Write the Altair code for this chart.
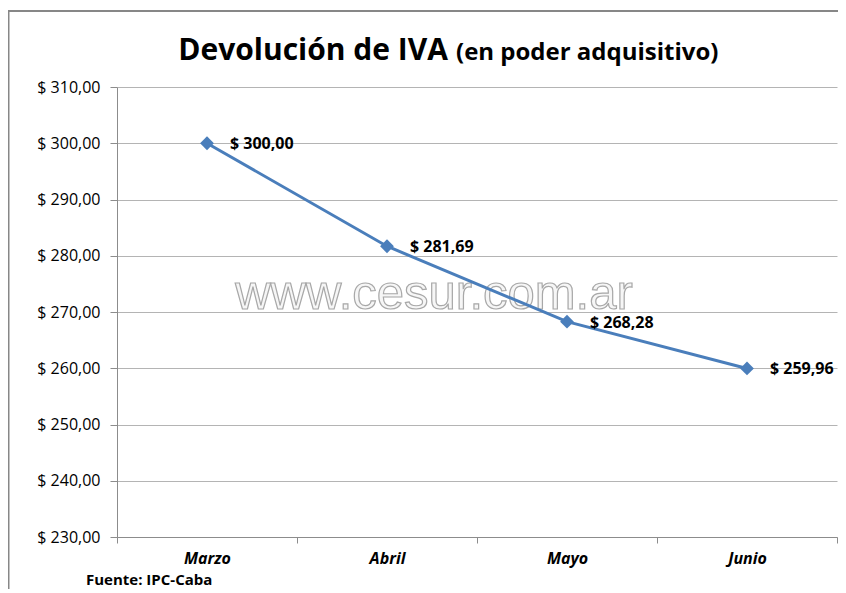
import altair as alt
import pandas as pd

meses = ["Marzo", "Abril", "Mayo", "Junio"]
valores = [300.00, 281.69, 268.28, 259.96]
y_ticks = [230, 240, 250, 260, 270, 280, 290, 300, 310]

df = pd.DataFrame({"mes": meses, "valor": valores})

BLUE = "#4a7ebb"
GRID = "#b4b4b4"
AXIS = "#8c8c8c"
FONT = "Open Sans"

x_enc = alt.X(
    "mes:N",
    sort=meses,
    scale=alt.Scale(type="band", paddingInner=0, paddingOuter=0),
    axis=alt.Axis(
        title=None,
        labelAngle=0,
        labelFont=FONT,
        labelFontSize=16,
        labelFontWeight="bold",
        labelFontStyle="italic",
        labelColor="#000000",
        labelPadding=7,
        tickBand="extent",
        tickSize=6,
        tickColor=AXIS,
        domainColor=AXIS,
        grid=False,
    ),
)
y_enc = alt.Y(
    "valor:Q",
    scale=alt.Scale(domain=[230, 310], nice=False, zero=False),
    axis=alt.Axis(
        title=None,
        values=y_ticks,
        labelExpr="'$ ' + replace(format(datum.value, '.2f'), '.', ',')",
        labelFont=FONT,
        labelFontSize=16,
        labelColor="#000000",
        labelPadding=10,
        tickSize=7,
        tickColor=AXIS,
        domainColor=AXIS,
        gridColor=GRID,
        gridWidth=1,
    ),
)

base = alt.Chart(df).encode(x=x_enc, y=y_enc)

line = base.mark_line(color=BLUE, strokeWidth=3)
pts = base.mark_point(shape="diamond", filled=True, size=190, color=BLUE, opacity=1)
lbl = base.transform_calculate(
    t="'$ ' + replace(format(datum.valor, '.2f'), '.', ',')"
).mark_text(
    align="left", baseline="middle", dx=23, dy=1, font=FONT, fontSize=16,
    fontWeight="bold", color="#000000"
).encode(text="t:N")

one = pd.DataFrame({"k": [0]})
deco = alt.Chart(one)

watermark = deco.mark_text(
    align="center", baseline="alphabetic", font="Liberation Sans", fontSize=49,
    fill="#f6f6f6", stroke="#a8a8a8", strokeWidth=1.2
).encode(x=alt.value(317), y=alt.value(222), text=alt.value("www.cesur.com.ar"))

title1 = deco.mark_text(
    align="right", baseline="alphabetic", font=FONT, fontSize=30, fontWeight="bold",
    color="#000000"
).encode(x=alt.value(331), y=alt.value(-27), text=alt.value("Devolución de IVA"))

title2 = deco.mark_text(
    align="left", baseline="alphabetic", font=FONT, fontSize=24, fontWeight="bold",
    color="#000000"
).encode(x=alt.value(339), y=alt.value(-27), text=alt.value("(en poder adquisitivo)"))

fuente = deco.mark_text(
    align="left", baseline="alphabetic", font=FONT, fontSize=15, fontWeight="bold",
    color="#000000"
).encode(x=alt.value(-31), y=alt.value(498), text=alt.value("Fuente: IPC-Caba"))

frame_left = deco.mark_rule(color="#878787", strokeWidth=2).encode(
    x=alt.value(-108.5), y=alt.value(-77), y2=alt.value(503)
)
frame_top = deco.mark_rule(color="#878787", strokeWidth=2).encode(
    x=alt.value(-109.5), x2=alt.value(721), y=alt.value(-76)
)

chart = alt.layer(
    frame_left, frame_top, watermark, line, pts, lbl, title1, title2, fuente
).properties(
    width=720,
    height=450,
    padding={"left": 109, "top": 79, "right": 1, "bottom": 52},
    autosize=alt.AutoSizeParams(type="none"),
    background="#ffffff",
).configure_view(stroke=None)

chart.save("out.html", embed_options={"renderer": "svg", "actions": False})
